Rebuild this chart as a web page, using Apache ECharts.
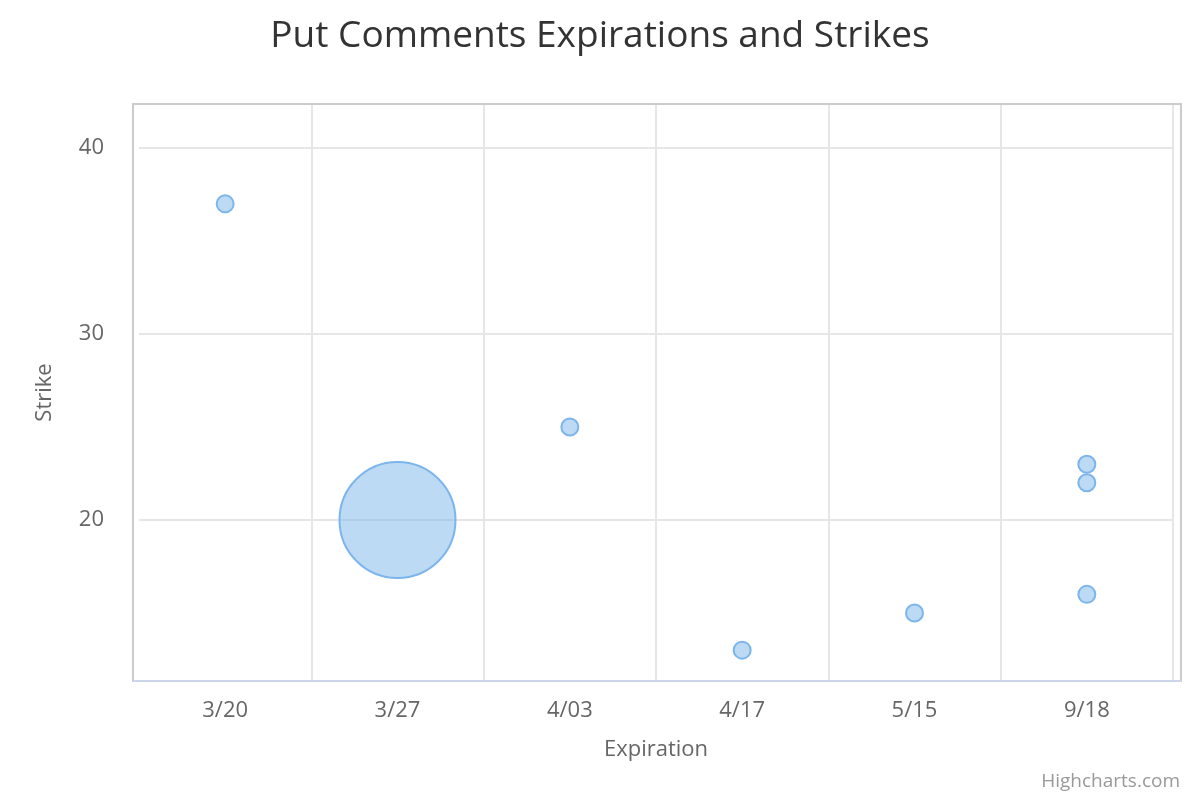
<!DOCTYPE html>
<html>
<head>
<meta charset="utf-8">
<script src="https://cdn.jsdelivr.net/npm/echarts@6/dist/echarts.min.js"></script>
<style>
  html, body { margin: 0; padding: 0; background: #fff; }
  #main { width: 1200px; height: 800px; }
</style>
</head>
<body>
<div id="main"></div>
<script>
// data
var expirations = ['3/20', '3/27', '4/03', '4/17', '5/15', '9/18'];
var pointExpiration = ['3/20', '3/27', '4/03', '4/17', '5/15', '9/18', '9/18', '9/18'];
var pointStrike = [37, 20, 25, 13, 15, 23, 22, 16];
var pointCount = [1, 9, 1, 1, 1, 1, 1, 1];

var fontFamily = '"Open Sans", "DejaVu Sans", sans-serif';

var zMin = Math.min.apply(null, pointCount);
var zMax = Math.max.apply(null, pointCount);
var minSize = 17, maxSize = 116;

// bubble diameter scaled by area, like highcharts
function bubbleSize(z) {
    var pos = zMax === zMin ? 0 : (z - zMin) / (zMax - zMin);
    return Math.sqrt(minSize * minSize + pos * (maxSize * maxSize - minSize * minSize));
}

var seriesData = pointStrike.map(function (s, i) {
    return [pointExpiration[i], s, pointCount[i]];
});

var myChart = echarts.init(document.getElementById('main'));

var option = {
    animation: false,
    title: {
        text: 'Put Comments Expirations and Strikes',
        left: 'center',
        top: 13,
        textStyle: {
            fontFamily: fontFamily,
            fontSize: 37,
            fontWeight: 'normal',
            color: '#333'
        }
    },
    grid: {
        left: 139,
        right: 27,
        top: 104,
        bottom: 119
    },
    xAxis: {
        type: 'category',
        data: expirations,
        boundaryGap: true,
        name: 'Expiration',
        nameLocation: 'middle',
        nameGap: 58,
        nameTextStyle: { fontFamily: fontFamily, fontSize: 22, color: '#666' },
        axisLine: { show: false },
        axisTick: { show: false },
        axisLabel: { margin: 19, fontFamily: fontFamily, fontSize: 22, color: '#666' },
        splitLine: { show: true, showMinLine: false, lineStyle: { color: '#e6e6e6', width: 2 } }
    },
    yAxis: {
        type: 'value',
        min: 11.34,
        max: 42.37,
        splitNumber: 3,
        offset: 6,
        name: 'Strike',
        nameLocation: 'middle',
        nameGap: 77,
        nameTextStyle: { fontFamily: fontFamily, fontSize: 22, color: '#666' },
        axisLine: { show: false },
        axisTick: { show: false },
        axisLabel: {
            margin: 29,
            showMinLabel: false,
            showMaxLabel: false,
            fontFamily: fontFamily,
            fontSize: 22,
            color: '#666'
        },
        splitLine: { show: true, lineStyle: { color: '#e6e6e6', width: 2 } }
    },
    graphic: [
        {
            type: 'rect',
            shape: { x: 133, y: 104, width: 1048, height: 577 },
            style: { fill: 'none', stroke: '#cccccc', lineWidth: 2 },
            z: 5
        },
        {
            type: 'line',
            shape: { x1: 133, y1: 681, x2: 1181, y2: 681 },
            style: { stroke: '#ccd6eb', lineWidth: 2 },
            z: 6
        },
        {
            type: 'text',
            right: 20,
            top: 772,
            style: { text: 'Highcharts.com', fontFamily: fontFamily, fontSize: 19, fill: '#999' }
        }
    ],
    series: [
        {
            name: 'Comments',
            type: 'scatter',
            data: seriesData,
            symbolSize: function (val) {
                return bubbleSize(val[2]);
            },
            itemStyle: {
                color: 'rgba(124,181,236,0.5)',
                borderColor: '#7cb5ec',
                borderWidth: 2,
                opacity: 1
            },
            z: 10
        }
    ]
};

myChart.setOption(option);
</script>
</body>
</html>
